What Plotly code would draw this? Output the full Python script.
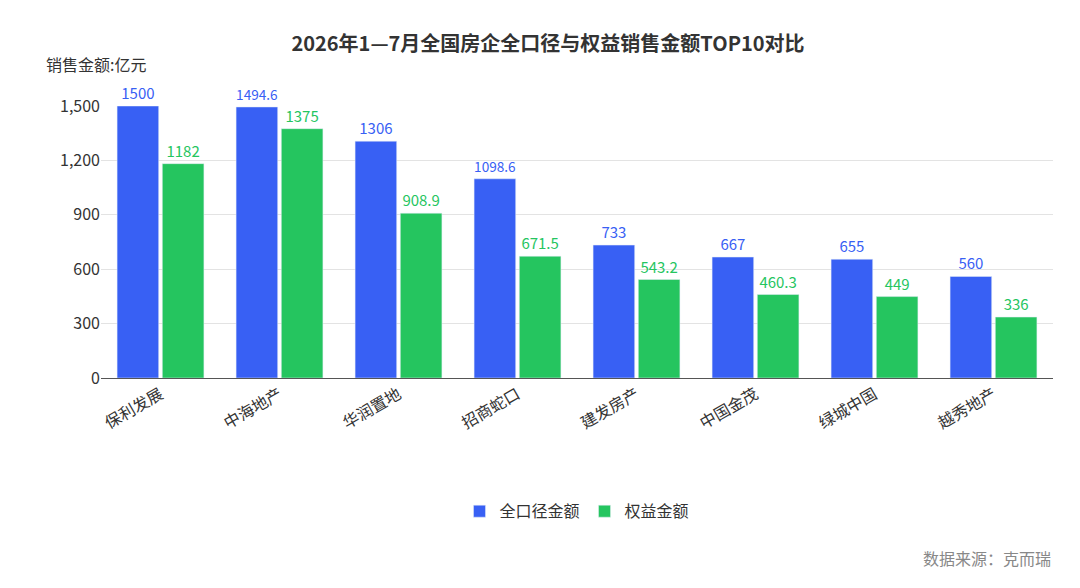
import plotly.graph_objects as go

companies = ["保利发展", "中海地产", "华润置地", "招商蛇口", "建发房产", "中国金茂", "绿城中国", "越秀地产"]
total = [1500, 1494.6, 1306, 1098.6, 733, 667, 655, 560]
equity = [1182, 1375, 908.9, 671.5, 543.2, 460.3, 449, 336]
total_labels = ["1500", "1494.6", "1306", "1098.6", "733", "667", "655", "560"]
equity_labels = ["1182", "1375", "908.9", "671.5", "543.2", "460.3", "449", "336"]

blue = "#3860F4"
green = "#25C55F"
font = "Noto Sans CJK SC"

fig = go.Figure()
fig.add_bar(x=companies, y=total, name="全口径金额", marker_color=blue,
            text=total_labels, textposition="outside",
            textfont=dict(color=blue, size=15), cliponaxis=False)
fig.add_bar(x=companies, y=equity, name="权益金额", marker_color=green,
            text=equity_labels, textposition="outside",
            textfont=dict(color=green, size=15), cliponaxis=False)

fig.update_layout(
    width=1080, height=588,
    plot_bgcolor="white", paper_bgcolor="white",
    font=dict(family=font, size=15, color="#333"),
    title=dict(text="<b>2026年1—7月全国房企全口径与权益销售金额TOP10对比</b>",
               x=0.5, y=0.95, xanchor="center", font=dict(size=20, color="#333")),
    bargap=0.24, bargroupgap=0.08,
    margin=dict(l=93, r=35, t=98, b=218),
    legend=dict(orientation="h", x=0.5, xanchor="center", y=-0.49, yanchor="middle",
                font=dict(size=16)),
    xaxis=dict(tickangle=-30, showline=True, linecolor="#555", ticks="",
               tickfont=dict(size=16)),
    yaxis=dict(range=[0, 1500], tickvals=[0, 300, 600, 900, 1200, 1500],
               tickformat=",", gridcolor="#e3e3e3", zeroline=False,
               tickfont=dict(size=16)),
    annotations=[
        dict(text="销售金额:亿元", xref="paper", yref="paper", x=-0.06, y=1.0,
             yshift=56, xanchor="left", yanchor="top", showarrow=False,
             font=dict(size=16, color="#333")),
        dict(text="数据来源：克而瑞", xref="paper", yref="paper", x=1.0, y=-0.66,
             xanchor="right", yanchor="middle", showarrow=False,
             font=dict(size=16, color="#888")),
    ],
)

fig.write_html("out.html")
